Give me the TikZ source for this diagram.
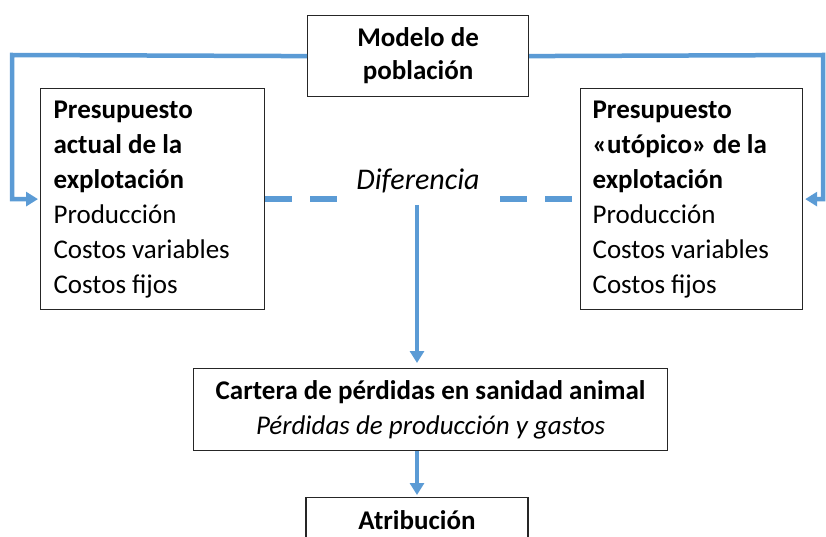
\documentclass[tikz,border=0pt]{standalone}
\usepackage{fontspec}
\setmainfont{Carlito}
\usetikzlibrary{arrows.meta}
\definecolor{flow}{RGB}{91,155,213}
\begin{document}
\begin{tikzpicture}[x=1pt,y=1pt,
  box/.style={draw=black!85, line width=1.2pt, inner sep=0pt, font=\fontsize{27}{35}\selectfont},
  link/.style={draw=flow, line width=4.5pt},
  arr/.style={link, -{Triangle[width=14pt,length=12pt]}},
  dashlink/.style={draw=flow, line width=6.5pt, dash pattern=on 27pt off 18pt}]
\useasboundingbox (0,0) rectangle (826,-537);

\node[box, anchor=north west, minimum width=221, minimum height=81, align=center, font=\fontsize{27}{33}\selectfont\bfseries] (modelo) at (307,-15) {Modelo de\\población};

\node[box, anchor=north west, minimum width=224, minimum height=221, text width=198, align=flush left] (left) at (40,-88)
  {\textbf{Presupuesto}\\\textbf{actual de la}\\\textbf{explotación}\\Producción\\Costos variables\\Costos fijos};

\node[box, anchor=north west, minimum width=222, minimum height=221, text width=198, align=flush left] (right) at (580,-88)
  {\textbf{Presupuesto}\\\textbf{«utópico» de la}\\\textbf{explotación}\\Producción\\Costos variables\\Costos fijos};

\node[font=\fontsize{30}{36}\selectfont\itshape, inner sep=3pt] (diff) at (418,-181) {Diferencia};

\node[box, anchor=north west, minimum width=474, minimum height=82, align=center] (cartera) at (193,-368)
  {\textbf{Cartera de pérdidas en sanidad animal}\\\textit{Pérdidas de producción y gastos}};

\node[box, anchor=north, minimum width=222, minimum height=46, font=\fontsize{27}{35}\selectfont\bfseries] (atrib) at (417,-497) {Atribución};

\coordinate (lbend) at (12,-55);
\coordinate (rbend) at (823,-55);
\coordinate (dstart) at (417,-205);
\draw[arr, shorten >=2pt] (modelo.west) -- (lbend) |- (left.west);
\draw[arr, shorten >=2pt] (modelo.east) -- (rbend) |- (right.east);

\draw[dashlink] (left.east) -- ++(74,0);
\draw[dashlink] ([xshift=-80pt]right.west) -- (right.west);

\draw[arr, shorten >=5pt] (dstart) -- (dstart |- cartera.north);
\draw[arr, shorten >=2pt] (cartera.south -| atrib.north) -- (atrib.north);
\end{tikzpicture}
\end{document}
